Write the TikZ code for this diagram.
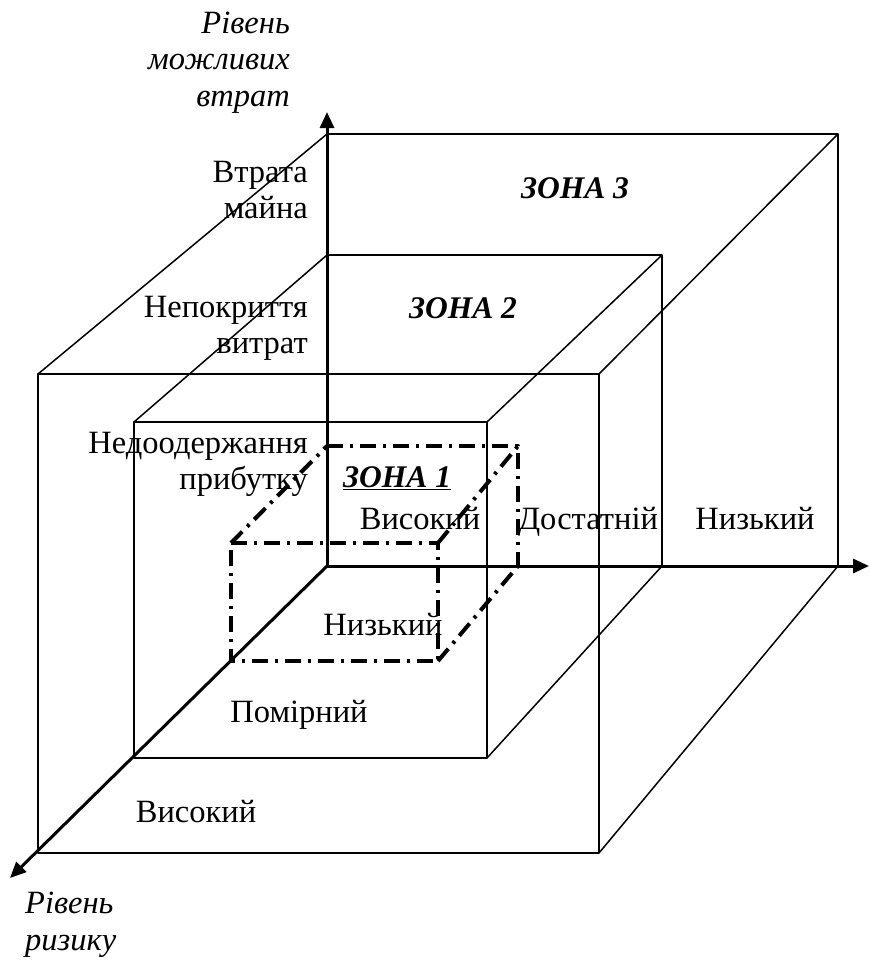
\documentclass[tikz,border=0pt]{standalone}
\usepackage{fontspec}
\setmainfont{Liberation Serif}
\usetikzlibrary{arrows.meta}
\begin{document}
\begin{tikzpicture}[x=1pt,y=-1pt,
  thinln/.style={line width=1.5pt, line join=round},
  axisln/.style={line width=3pt,-{Triangle[length=16pt,width=14pt]}},
  zoneoneln/.style={line width=4pt, dash pattern=on 16pt off 7pt on 3pt off 7pt, line join=round},
  lbl/.style={font=\fontsize{32.5}{36}\selectfont, inner sep=0pt},
  ilbl/.style={font=\fontsize{32.5}{36.5}\selectfont\itshape, inner sep=0pt},
  zlbl/.style={font=\fontsize{31.5}{36}\selectfont\bfseries\itshape, inner sep=0pt}]
\useasboundingbox (0,0) rectangle (870,964);
% axes
\coordinate (O) at (327,566);
\coordinate (ytip) at (327,112);
\coordinate (xtip) at (869,566);
\coordinate (ztip) at (10,878);
% zone 3
\coordinate (A1) at (38,374);  \coordinate (A2) at (599,374);
\coordinate (A3) at (599,853); \coordinate (A4) at (38,853);
\coordinate (B1) at (327,134); \coordinate (B2) at (838,134);
\coordinate (B3) at (838,566);
% zone 2
\coordinate (C1) at (134,422); \coordinate (C2) at (487,422);
\coordinate (C3) at (487,758); \coordinate (C4) at (134,758);
\coordinate (D1) at (327,255); \coordinate (D2) at (662,255);
\coordinate (D3) at (662,566);
% zone 1
\coordinate (E1) at (231,543); \coordinate (E2) at (438,543);
\coordinate (E3) at (438,661); \coordinate (E4) at (231,661);
\coordinate (F1) at (327,446); \coordinate (F2) at (518,446);
\coordinate (F3) at (518,566);

\draw[thinln] (B1) -- (B2) -- (B3);
\draw[thinln] (A1) -- (A2) -- (A3) -- (A4) -- cycle;
\draw[thinln] (A1) -- (B1);
\draw[thinln] (A2) -- (B2);
\draw[thinln] (A3) -- (B3);

\draw[thinln] (D1) -- (D2) -- (D3);
\draw[thinln] (C1) -- (C2) -- (C3) -- (C4) -- cycle;
\draw[thinln] (C1) -- (D1);
\draw[thinln] (C2) -- (D2);
\draw[thinln] (C3) -- (D3);

\draw[zoneoneln] (F1) -- (F2) -- (F3);
\draw[zoneoneln] (E1) -- (E2) -- (E3) -- (E4) -- cycle;
\draw[zoneoneln] (E1) -- (F1);
\draw[zoneoneln] (E2) -- (F2);
\draw[zoneoneln] (E3) -- (F3);

\draw[axisln] (O) -- (ytip);
\draw[axisln] (O) -- (xtip);
\draw[axisln] (O) -- (ztip);

% labels (base anchor = baseline of last line)
\node[ilbl, align=right, anchor=base east] (ylab) at (290,106) {Рівень\\можливих\\втрат};
\node[lbl, align=right, anchor=base east] (l1) at (308,218) {Втрата\\майна};
\node[lbl, align=right, anchor=base east] (l2) at (308,353) {Непокриття\\витрат};
\node[lbl, align=right, anchor=base east] (l3) at (308,489) {Недоодержання\\прибутку};
\node[zlbl, anchor=base] (z3) at (575,198) {ЗОНА 3};
\node[zlbl, anchor=base] (z2) at (463,318) {ЗОНА 2};
\node[zlbl, anchor=base west] (z1) at (343,487) {\underline{ЗОНА 1}};
\node[lbl, anchor=base] (h1) at (420,529) {Високий};
\node[lbl, anchor=base] (h2) at (588,529) {Достатній};
\node[lbl, anchor=base] (h3) at (755,529) {Низький};
\node[lbl, anchor=base] (r1) at (383,635) {Низький};
\node[lbl, anchor=base] (r2) at (299,722) {Помірний};
\node[lbl, anchor=base] (r3) at (196,822) {Високий};
\node[ilbl, align=left, anchor=base west] (zlab) at (25,950) {Рівень\\ризику};
\end{tikzpicture}
\end{document}
